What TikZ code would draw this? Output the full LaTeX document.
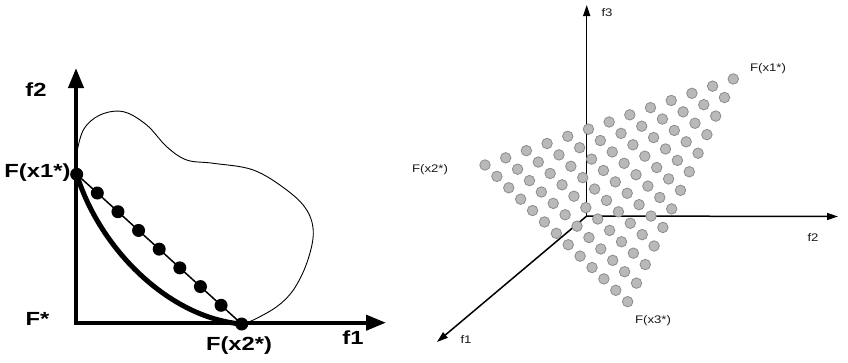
\documentclass[tikz,border=0pt]{standalone}
\usepackage{fontspec}
\setmainfont{Liberation Sans}
\newfontfamily\bigfont{Liberation Sans}[FakeStretch=1.25]
\newfontfamily\smallfont{Liberation Sans}[FakeStretch=1.2]
\usetikzlibrary{arrows.meta, calc}

\begin{document}
\begin{tikzpicture}[x=1pt, y=-1pt,
    axis/.style={line width=4pt, line cap=rect, -{Triangle[length=20pt,width=15pt]}},
    axisthree/.style={line width=1.5pt, -{Triangle[length=11pt,width=7pt]}},
    bdot/.style={circle, fill=black, inner sep=0pt, minimum size=13pt},
    gdot/.style={circle, draw=gray!90, fill=gray!55, line width=0.8pt, inner sep=0pt, minimum size=10.5pt},
    biglabel/.style={font=\bigfont\fontsize{19}{21}\selectfont\bfseries},
    smalllabel/.style={font=\smallfont\fontsize{11}{12}\selectfont, text=black!90}]
    \useasboundingbox (0,0) rectangle (848,362);

    % left: two objectives
    \coordinate (o) at (76,322.7);
    \coordinate (ytip) at (76,68);
    \coordinate (xtip) at (386,322.7);
    \draw[line width=0.9pt] plot[smooth, tension=0.6] coordinates {(76,157) (83.3,130) (100,115) (123.3,111.7) (146.7,125) (166.7,146.7) (186.7,160) (213.3,163.3) (253.3,170) (286.7,190) (306.7,210) (313.3,233.3) (306.7,263.3) (293.3,290) (276.7,306.7) (253.3,320) (241.7,324)};
    \draw[axis] (o) -- (ytip);
    \draw[axis] (o) -- (xtip);
    \node[bdot] (p0) at (76.7,174.3) {};
    \node[bdot] (p8) at (241.7,324) {};
    \draw[line width=5pt] (p0.center) .. controls (100,250) and (170,318) .. (p8.center);
    \draw[line width=1.5pt] (p0.center) -- (p8.center);
    \foreach \k in {1,...,7}
        \node[bdot] (p\k) at ($(p0)!\k/8!(p8)$) {};
    \node[biglabel] (f2) at (36,90) {f2};
    \node[biglabel] (f1) at (353,338) {f1};
    \node[biglabel] (fstar) at (37.5,319) {F*};
    \node[biglabel, anchor=east] (fx1) at (74,173) {F(x1*)};
    \node[biglabel] (fx2) at (239,346) {F(x2*)};

    % right: three objectives
    \coordinate (origin) at (586.7,216);
    \coordinate (ztip) at (586.7,5);
    \coordinate (ytip3) at (838,216.5);
    \coordinate (xtip3) at (437,342);
    \draw[axisthree] (origin) -- (ztip);
    \draw[axisthree] (origin) -- (ytip3);
    \draw[axisthree] (origin) -- (xtip3);
    \foreach \i in {0,...,12} {
        \pgfmathtruncatemacro\jmax{12-\i}
        \foreach \j in {0,...,\jmax}
            \node[gdot] (g-\i-\j) at ({485+20.69*\i+11.89*\j},{165-7.17*\i+11.39*\j}) {};
    }
    \node[smalllabel] (f3lab) at (607,12.5) {f3};
    \node[smalllabel] (f2lab) at (813,237.5) {f2};
    \node[smalllabel] (f1lab) at (466,340) {f1};
    \node[smalllabel] (fx1r) at (768,69) {F(x1*)};
    \node[smalllabel] (fx2r) at (430,170) {F(x2*)};
    \node[smalllabel] (fx3r) at (653,320.5) {F(x3*)};
\end{tikzpicture}
\end{document}
